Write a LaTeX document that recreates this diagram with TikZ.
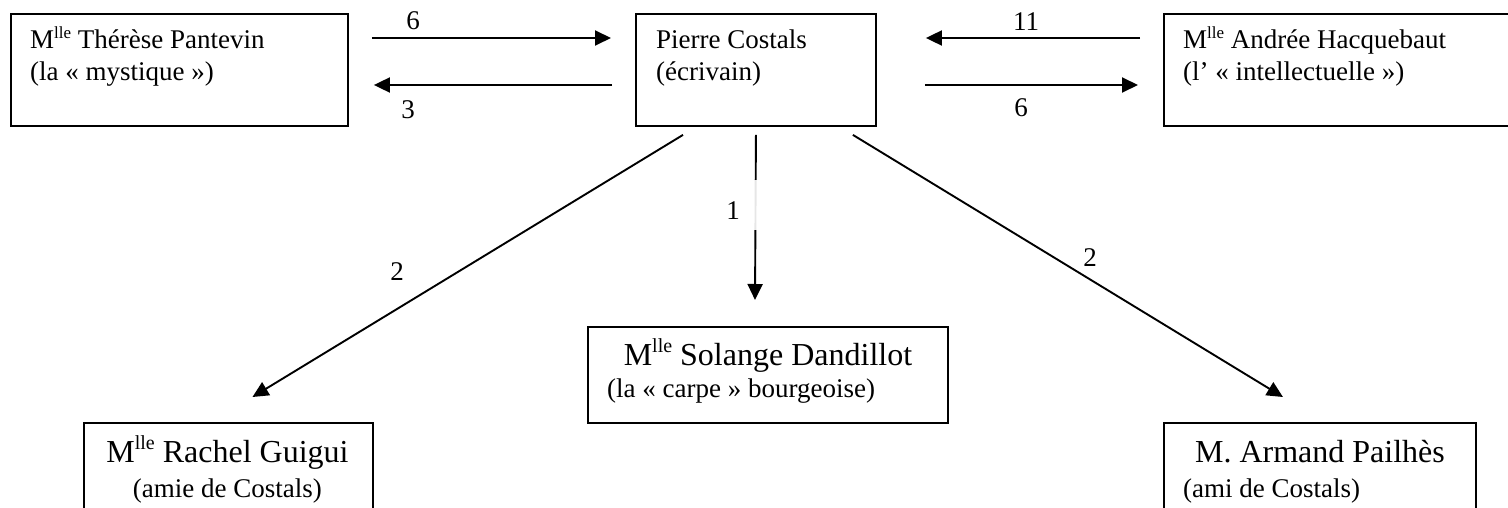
\documentclass[tikz,border=0pt]{standalone}
\usepackage{fontspec}
\setmainfont{Liberation Serif}
\usetikzlibrary{arrows.meta}

% "Mlle" with a raised, smaller "lle"; the argument is the size of the raised part
\newcommand\mlle[1]{M\raisebox{0.4em}{\fontsize{#1}{#1}\selectfont lle}}

\begin{document}
\begin{tikzpicture}[x=1pt, y=-1pt,
  every node/.style={font=\fontsize{27}{32}\selectfont},
  box/.style={draw, line width=1.9pt, inner sep=0, anchor=north west},
  txt/.style={inner sep=0},
  big/.style={inner sep=0, font=\fontsize{32}{38}\selectfont},
  num/.style={inner sep=0},
  rel/.style={line width=1.9pt, -{Triangle[length=16pt, width=15pt]}}]

\useasboundingbox (0,0) rectangle (1508,508);

% people
\node[box, minimum width=337pt, minimum height=112pt] (ther) at (10,13) {};
\node[box, minimum width=240pt, minimum height=112pt] (cost) at (635,13) {};
\node[box, minimum width=360pt, minimum height=112pt] (andr) at (1163,13) {};
\node[box, minimum width=360pt, minimum height=96pt]  (sol)  at (587,326) {};
\node[box, minimum width=289pt, minimum height=110pt] (rach) at (83,422) {};
\node[box, minimum width=312pt, minimum height=110pt] (arm)  at (1163,422) {};

% names
\node[txt, anchor=base west] (therA) at ([shift={(20,36)}]ther.north west) {\mlle{17} Thérèse Pantevin};
\node[txt, anchor=base west] (therB) at ([shift={(20,68)}]ther.north west) {(la «~mystique~»)};
\node[txt, anchor=base west] (costA) at ([shift={(21,36)}]cost.north west) {Pierre Costals};
\node[txt, anchor=base west] (costB) at ([shift={(21,68)}]cost.north west) {(écrivain)};
\node[txt, anchor=base west] (andrA) at ([shift={(20,36)}]andr.north west) {\mlle{17} Andrée Hacquebaut};
\node[txt, anchor=base west] (andrB) at ([shift={(20,68)}]andr.north west) {(l’ «~intellectuelle~»)};
\node[big, anchor=base] (solA) at ([shift={(0,39)}]sol.north) {\mlle{20} Solange Dandillot};
\node[txt, anchor=base west] (solB) at ([shift={(20,71)}]sol.north west) {(la «~carpe~» bourgeoise)};
\node[big, anchor=base] (rachA) at ([shift={(-1,40)}]rach.north) {\mlle{20} Rachel Guigui};
\node[txt, anchor=base] (rachB) at ([shift={(-1,75)}]rach.north) {(amie de Costals)};
\node[big, anchor=base] (armA) at ([shift={(0,40)}]arm.north) {M. Armand Pailhès};
\node[txt, anchor=base west] (armB) at ([shift={(20,75)}]arm.north west) {(ami de Costals)};

% relations between the three upper boxes
\draw[rel] ([shift={(23,25)}]ther.north east) -- ([shift={(-24,25)}]cost.north west);
\draw[rel] ([shift={(-23,72)}]cost.north west) -- ([shift={(25,72)}]ther.north east);
\draw[rel] ([shift={(-23,25)}]andr.north west) -- ([shift={(49,25)}]cost.north east);
\draw[rel] ([shift={(48,72)}]cost.north east) -- ([shift={(-25,72)}]andr.north west);

% relations from Costals downwards
\draw[rel] ([shift={(48,8)}]cost.south west) -- ([shift={(24,-25)}]rach.north);
\draw[rel] ([shift={(0,8)}]cost.south) -- ([shift={(168,-26)}]sol.north west);
\draw[rel] ([shift={(-24,8)}]cost.south east) -- ([shift={(-37,-25)}]arm.north);

% counts
\node[num] (c1) at (413,21) {6};
\node[num] (c2) at (408,110) {3};
\node[num] (c3) at (1026,22) {11};
\node[num] (c4) at (1021,108) {6};
\node[num] (c5) at (397,272) {2};
\node[num, minimum width=48pt, minimum height=50pt, text height=28pt, text depth=0pt,
      fill=white, fill opacity=0.9, text opacity=1] (c6) at (733,205) {1};
\node[num] (c7) at (1090,258) {2};

\end{tikzpicture}
\end{document}
